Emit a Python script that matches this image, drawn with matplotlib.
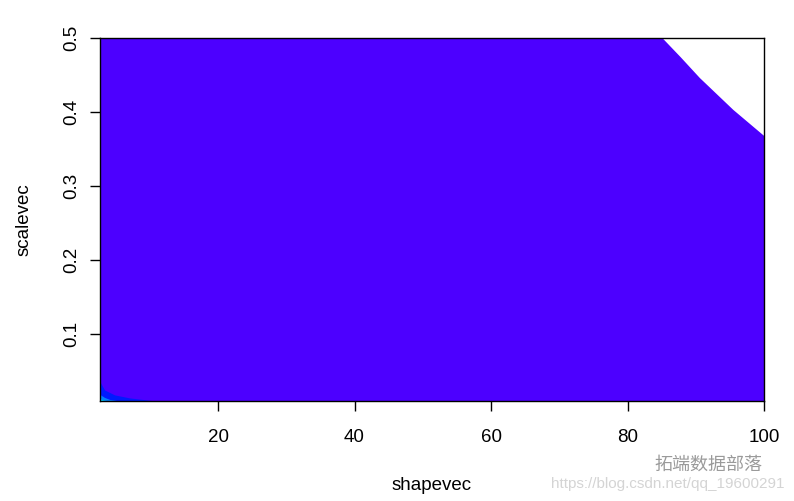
import matplotlib.pyplot as plt

plt.rcParams['font.family'] = ['Liberation Sans', 'DejaVu Sans']

# plot range (shapevec x scalevec grid)
shape_lim = [2.7, 100]
scale_lim = [0.01, 0.5]

# topo.colors levels, lowest first
level_colors = ['#4C00FF', '#0019FF', '#0080FF', '#00E5FF']

# edge of the NA (white) corner, top right
corner_shape = [85.1, 87.8, 90.6, 95.5, 100.0]
corner_scale = [0.5, 0.474, 0.446, 0.403, 0.368]

# contour band edges near the origin (from left edge to bottom edge)
band1_shape = [2.7, 3.43, 4.9, 7.1, 10.3]
band1_scale = [0.0365, 0.0243, 0.0176, 0.0135, 0.01]
band2_shape = [2.7, 3.43, 4.17, 5.2]
band2_scale = [0.0185, 0.0142, 0.0115, 0.01]
band3_shape = [2.7, 3.14, 3.73]
band3_scale = [0.0128, 0.0108, 0.01]

xticks = [20, 40, 60, 80, 100]
yticks = [0.1, 0.2, 0.3, 0.4, 0.5]

fig = plt.figure(figsize=(7.94, 5.01), dpi=100)
ax = fig.add_axes([100 / 794, 100 / 501, 664 / 794, 363 / 501])

# main level: whole region except the NA corner
xs = [shape_lim[0], shape_lim[1]] + corner_shape[::-1] + [shape_lim[0]]
ys = [scale_lim[0], scale_lim[0]] + corner_scale[::-1] + [scale_lim[1]]
ax.fill(xs, ys, color=level_colors[0], lw=0)

for i, (bx, by) in enumerate([(band1_shape, band1_scale),
                              (band2_shape, band2_scale),
                              (band3_shape, band3_scale)]):
    px = [shape_lim[0]] + bx
    py = [scale_lim[0]] + by
    ax.fill(px, py, color=level_colors[i + 1], lw=0)

ax.set_xlim(shape_lim)
ax.set_ylim(scale_lim)
ax.set_xticks(xticks)
ax.set_xticklabels([str(t) for t in xticks])
ax.set_yticks(yticks)
ax.set_yticklabels([str(t) for t in yticks], rotation=90, va='center')
ax.tick_params(direction='out', length=7.5, width=1, labelsize=13.5)
ax.tick_params(axis='x', pad=13)
ax.tick_params(axis='y', pad=7)
for s in ax.spines.values():
    s.set_linewidth(1)
    s.set_color('black')
ax.set_xlabel('shapevec', fontsize=13.5, labelpad=22)
ax.set_ylabel('scalevec', fontsize=13.5, labelpad=22)

# watermark
fig.text(708 / 794, 1 - 465 / 501, '拓端数据部落', fontsize=13, color='#9a9a9a',
         ha='center', va='center', family=['Noto Sans CJK SC', 'DejaVu Sans'])
fig.text(668 / 794, 1 - 484 / 501, 'https://blog.csdn.net/qq_19600291', fontsize=11,
         color='#d4d4d4', ha='center', va='center')

plt.savefig('out.png', dpi=100)
